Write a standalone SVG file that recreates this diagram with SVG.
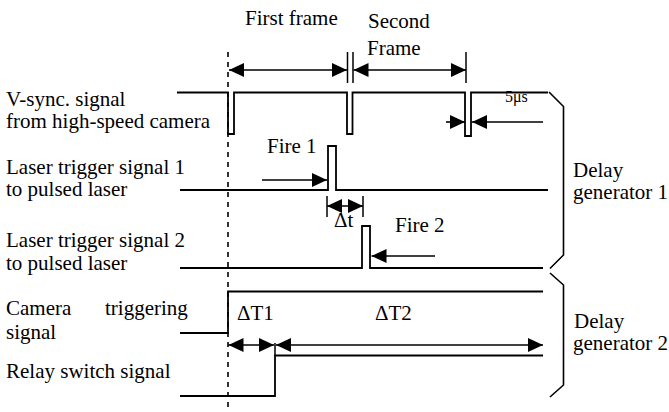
<svg xmlns="http://www.w3.org/2000/svg" width="669" height="412" viewBox="0 0 669 412">
<defs>
<marker id="ah" markerUnits="userSpaceOnUse" markerWidth="16" markerHeight="14" refX="15" refY="7" orient="auto-start-reverse">
<path d="M0,0 L15,7 L0,14 z" fill="#000"/>
</marker>
<style>
text{font-family:"Liberation Serif","Times New Roman",serif;font-size:21px;fill:#000}
.sig{fill:none;stroke:#000;stroke-width:1.8}
.tick{stroke:#000;stroke-width:1.5}
.arr{stroke:#000;stroke-width:1.6;fill:none}
.dash{stroke:#000;stroke-width:1.6;stroke-dasharray:5 5}
.brace{fill:none;stroke:#000;stroke-width:1.6}
</style>
</defs>
<rect width="669" height="412" fill="#fff"/>

<g id="frame-labels">
<text x="245" y="25">First frame</text>
<text x="368" y="28">Second</text>
<text x="367" y="55">Frame</text>
</g>

<line id="reference-line" class="dash" x1="228" y1="52" x2="228" y2="412"/>

<g id="vsync">
<text x="6" y="106">V-sync. signal</text>
<text x="6" y="128">from high-speed camera</text>
<text x="505" y="102" style="font-size:16px">5μs</text>
<path class="sig" d="M177,92.5 H228 V134 H234 V92.5 H347 V134 H352.5 V92.5 H465 V136 H471 V92.5 H548"/>
</g>

<g id="laser1">
<text x="6" y="174">Laser trigger signal 1</text>
<text x="6" y="196">to pulsed laser</text>
<path class="sig" d="M180,190 H328 V146 H336 V190 H548"/>
<text x="267" y="153">Fire 1</text>
</g>

<g id="laser2">
<text x="6" y="247">Laser trigger signal 2</text>
<text x="6" y="270">to pulsed laser</text>
<path class="sig" d="M180,268 H362 V226 H370 V268 H543"/>
<text x="395" y="232">Fire 2</text>
<text x="334" y="227">Δt</text>
</g>

<g id="camera-trigger">
<text x="6" y="315">Camera</text>
<text x="105" y="315">triggering</text>
<text x="6" y="339">signal</text>
<path class="sig" d="M180,333 H228 V291.5 H543"/>
<text x="237" y="320">ΔT1</text>
<text x="375" y="320">ΔT2</text>
</g>

<g id="relay-switch">
<text x="6" y="378">Relay switch signal</text>
<path class="sig" d="M180,396 H275 V355.5 H543"/>
</g>

<g id="delay-generator-1">
<path class="brace" d="M549,92 L563.5,106.5 V255 L550,268.5"/>
<text x="573" y="177">Delay</text>
<text x="573" y="199">generator 1</text>
</g>

<g id="delay-generator-2">
<path class="brace" d="M550,273 L563.5,285 V385 L550,397"/>
<text x="574" y="328">Delay</text>
<text x="573" y="350">generator 2</text>
</g>

<g id="connectors">
<line class="tick" x1="347.5" y1="52" x2="347.5" y2="83"/>
<line class="tick" x1="353" y1="52" x2="353" y2="83"/>
<line class="tick" x1="466" y1="52" x2="466" y2="83"/>
<line class="arr" x1="229" y1="70" x2="347" y2="70" marker-start="url(#ah)" marker-end="url(#ah)"/>
<line class="arr" x1="353.5" y1="70" x2="466" y2="70" marker-start="url(#ah)" marker-end="url(#ah)"/>
<line class="arr" x1="446" y1="122" x2="465" y2="122" marker-end="url(#ah)"/>
<line class="arr" x1="543" y1="122" x2="472" y2="122" marker-end="url(#ah)"/>
<line class="arr" x1="262" y1="180" x2="327" y2="180" marker-end="url(#ah)"/>
<line class="tick" x1="327" y1="196" x2="327" y2="217"/>
<line class="tick" x1="363" y1="196" x2="363" y2="217"/>
<line class="arr" x1="327" y1="206" x2="363" y2="206" marker-start="url(#ah)" marker-end="url(#ah)"/>
<line class="arr" x1="435" y1="256" x2="371.5" y2="256" marker-end="url(#ah)"/>
<line class="tick" x1="275" y1="343" x2="275" y2="356"/>
<line class="arr" x1="228.5" y1="345" x2="274" y2="345" marker-start="url(#ah)" marker-end="url(#ah)"/>
<line class="arr" x1="276" y1="345" x2="543" y2="345" marker-start="url(#ah)" marker-end="url(#ah)"/>
</g>
</svg>
